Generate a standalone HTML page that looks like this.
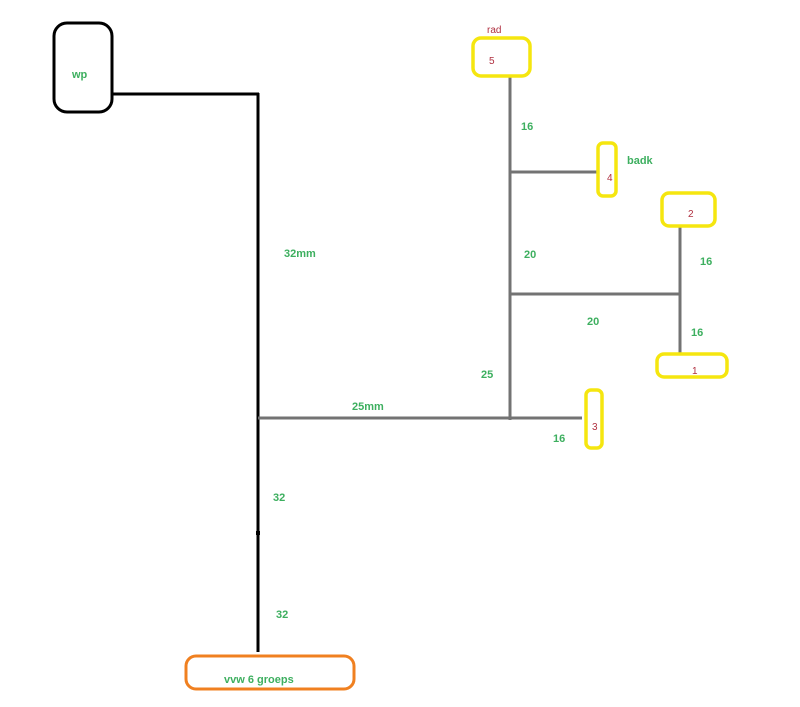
<!DOCTYPE html>
<html><head><meta charset="utf-8"><style>
html,body{margin:0;padding:0;background:#fff;}
svg{display:block}
text{font-family:"Liberation Sans",sans-serif;font-weight:bold;font-size:11px;}
.g{fill:#3daf5f}
.r{fill:#b03040;font-weight:normal;font-size:10px}
</style></head><body>
<svg width="800" height="707" viewBox="0 0 800 707">
<!-- black lines -->
<rect x="54" y="23" width="58" height="89" rx="13" fill="none" stroke="#000" stroke-width="3"/>
<line x1="112" y1="94" x2="259" y2="94" stroke="#000" stroke-width="3"/>
<line x1="258" y1="93" x2="258" y2="652" stroke="#000" stroke-width="3"/>
<rect x="256" y="531" width="4" height="4" fill="#000"/>
<!-- orange -->
<rect x="186" y="656" width="168" height="33" rx="10" fill="none" stroke="#f08020" stroke-width="3"/>
<!-- gray lines -->
<g stroke="#737373" stroke-width="3" fill="none">
<line x1="510" y1="76" x2="510" y2="420"/>
<line x1="258" y1="418" x2="582" y2="418"/>
<line x1="510" y1="172" x2="597" y2="172"/>
<line x1="510" y1="294" x2="680" y2="294"/>
<line x1="680" y1="227" x2="680" y2="353"/>
</g>
<!-- yellow boxes -->
<g stroke="#f5e60f" stroke-width="3.5" fill="none">
<rect x="473" y="38" width="57" height="38" rx="8"/>
<rect x="598" y="143" width="18" height="53" rx="5"/>
<rect x="662" y="193" width="53" height="33" rx="7"/>
<rect x="657" y="354" width="70" height="23" rx="7"/>
<rect x="586" y="390" width="16" height="58" rx="5"/>
</g>
<!-- labels -->
<text class="g" x="72" y="78">wp</text>
<text class="g" x="284" y="257">32mm</text>
<text class="g" x="352" y="410">25mm</text>
<text class="g" x="273" y="501">32</text>
<text class="g" x="276" y="618">32</text>
<text class="g" x="224" y="683">vvw 6 groeps</text>
<text class="r" x="487" y="33">rad</text>
<text class="r" x="489" y="64">5</text>
<text class="g" x="521" y="130">16</text>
<text class="g" x="627" y="164">badk</text>
<text class="r" x="607" y="181">4</text>
<text class="r" x="688" y="217">2</text>
<text class="g" x="524" y="258">20</text>
<text class="g" x="700" y="265">16</text>
<text class="g" x="587" y="325">20</text>
<text class="g" x="691" y="336">16</text>
<text class="r" x="692" y="374">1</text>
<text class="g" x="481" y="378">25</text>
<text class="r" x="592" y="430">3</text>
<text class="g" x="553" y="442">16</text>
</svg>
</body></html>
